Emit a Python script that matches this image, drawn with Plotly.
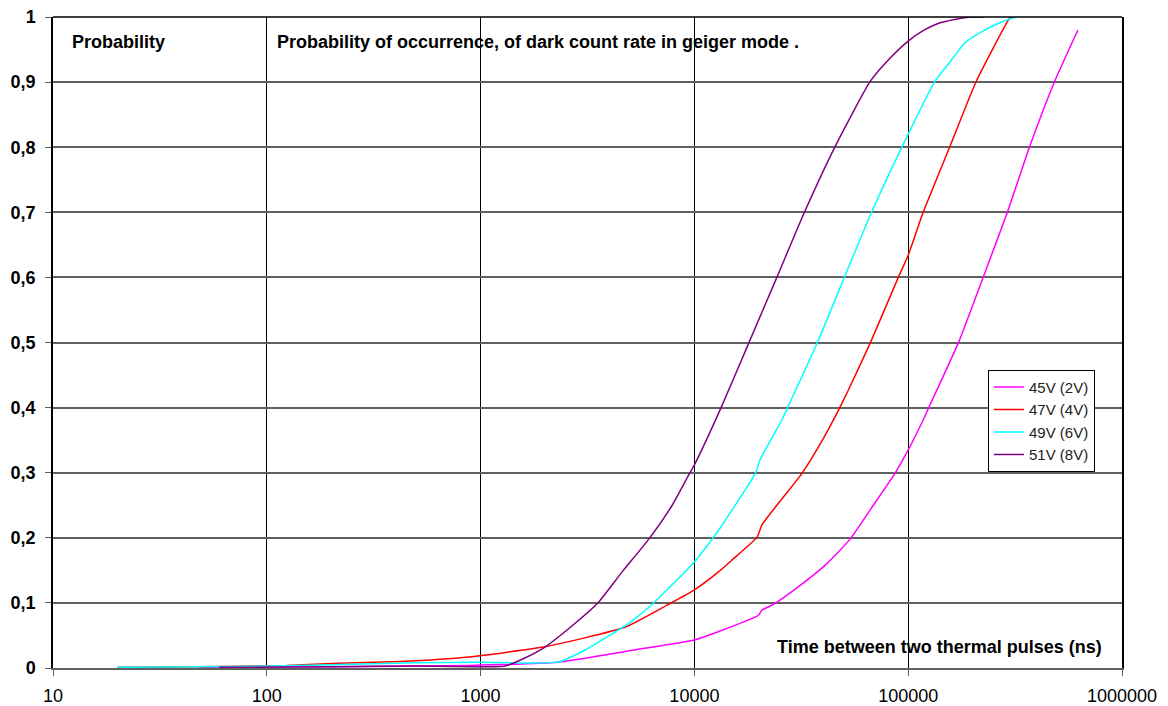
import plotly.graph_objs as go

# dark count probability curves
t_45v = [48, 100, 200, 500, 885, 2290, 5310, 10000, 13000, 19950, 20700, 23500, 30700,
         40900, 53500, 68700, 86700, 100000, 117500, 124000, 171400, 224000, 291000,
         370000, 484000, 622000]
p_45v = [0.001, 0.002, 0.002, 0.003, 0.004, 0.009, 0.028, 0.043, 0.056, 0.081, 0.089, 0.098, 0.125,
         0.158, 0.198, 0.250, 0.299, 0.335, 0.381, 0.398, 0.499, 0.600, 0.700,
         0.801, 0.901, 0.980]

t_47v = [20, 48, 124, 200, 420, 885, 2018, 4760, 7590, 10000, 13000, 15000, 19640,
         20700, 31860, 40200, 44700, 47200, 52500, 66400, 89900, 100000, 117500,
         156700, 208000, 298000, 305000]
p_47v = [0.001, 0.002, 0.004, 0.007, 0.010, 0.017, 0.033, 0.063, 0.098, 0.120, 0.148, 0.166, 0.201,
         0.220, 0.299, 0.353, 0.381, 0.396, 0.427, 0.499, 0.600, 0.634, 0.700,
         0.801, 0.901, 0.998, 1.0]

t_49v = [20, 48, 100, 200, 500, 1000, 2290, 3100, 4940, 6350, 10000, 12100, 13000,
         19270, 20300, 25640, 27100, 37400, 51600, 67400, 100000, 133300, 156700,
         184000, 220000, 263000, 293000, 320000]
p_49v = [0.001, 0.002, 0.003, 0.005, 0.008, 0.009, 0.009, 0.028, 0.069, 0.098, 0.163, 0.198, 0.212,
         0.299, 0.320, 0.381, 0.398, 0.498, 0.609, 0.700, 0.820, 0.901, 0.931,
         0.960, 0.977, 0.990, 0.996, 1.0]

t_51v = [60, 200, 500, 1300, 1600, 2018, 2595, 3515, 4600, 6120, 7870, 9420, 10000, 13250,
         17950, 24300, 32700, 45500, 66400, 80700, 100000, 117500, 138000, 165000,
         198000, 225000]
p_51v = [0.001, 0.002, 0.003, 0.003, 0.015, 0.033, 0.061, 0.099, 0.148, 0.198, 0.250, 0.297, 0.312, 0.398,
         0.499, 0.600, 0.700, 0.801, 0.901, 0.934, 0.963, 0.979, 0.990, 0.996,
         1.0, 1.0]

x_ticks = [10, 100, 1000, 10000, 100000, 1000000]
x_tick_labels = ["10", "100", "1000", "10000", "100000", "1000000"]
y_ticks = [0, 0.1, 0.2, 0.3, 0.4, 0.5, 0.6, 0.7, 0.8, 0.9, 1]
y_tick_labels = ["0", "0,1", "0,2", "0,3", "0,4", "0,5", "0,6", "0,7", "0,8", "0,9", "1"]

series = {
    "45V (2V)": (t_45v, p_45v, "#FF00FF"),
    "47V (4V)": (t_47v, p_47v, "#FF0000"),
    "49V (6V)": (t_49v, p_49v, "#00FFFF"),
    "51V (8V)": (t_51v, p_51v, "#800080"),
}

fig = go.Figure()
for name, (t, p, col) in series.items():
    fig.add_trace(go.Scatter(x=t, y=p, mode='lines', name=name,
                             line=dict(color=col, width=1.5, shape='spline', smoothing=0.5)))

font_txt = dict(family="Liberation Sans, Arial", size=18, color="black")

# page body has an 8px margin, so the figure is a bit smaller than the window
fig.update_layout(
    width=1160, height=698,
    margin=dict(l=45, r=46, t=9, b=38),
    paper_bgcolor="white", plot_bgcolor="white",
    font=dict(family="Liberation Sans, Arial", size=16, color="black"),
    showlegend=True,
    legend=dict(x=0.8746, y=0.458, xanchor="left", yanchor="top",
                bgcolor="white", bordercolor="black", borderwidth=1,
                font=dict(size=15, color="#222222"), itemwidth=30,
                tracegroupgap=0),
    annotations=[
        dict(text="<b>Probability</b>", x=0.016, y=0.9616, xref="paper", yref="paper",
             xanchor="left", yanchor="middle", showarrow=False, font=font_txt),
        dict(text="<b>Probability of occurrence, of dark count rate in geiger mode .</b>",
             x=0.2075, y=0.9616, xref="paper", yref="paper",
             xanchor="left", yanchor="middle", showarrow=False, font=font_txt),
        dict(text="<b>Time between two thermal pulses (ns)</b>", x=0.983, y=0.032,
             xref="paper", yref="paper", xanchor="right", yanchor="middle",
             showarrow=False, font=font_txt),
    ],
    shapes=[
        # black frame top edge
        dict(type="line", xref="paper", yref="paper", x0=0, x1=1, y0=1, y1=1,
             line=dict(color="black", width=1.5)),
    ],
)

fig.update_xaxes(type="log", range=[1, 6], tickvals=x_ticks, ticktext=x_tick_labels,
                 automargin=False, ticklabeloverflow="allow",
                 showgrid=True, gridcolor="black", gridwidth=1,
                 showline=True, linecolor="#606060", linewidth=1.5,
                 ticks="outside", ticklen=6, tickcolor="#606060",
                 ticklabelstandoff=5, zeroline=False,
                 tickfont=dict(size=18, color="black"))
fig.update_yaxes(range=[0, 1], tickvals=y_ticks, ticktext=y_tick_labels,
                 automargin=False, ticklabeloverflow="allow",
                 showgrid=True, gridcolor="#606060", gridwidth=1.5,
                 showline=True, linecolor="black", linewidth=1.5, mirror=True,
                 ticks="outside", ticklen=6, tickcolor="#606060",
                 ticklabelstandoff=6, zeroline=False,
                 tickfont=dict(size=18, color="black", weight="bold"))

fig.write_html("out.html")
